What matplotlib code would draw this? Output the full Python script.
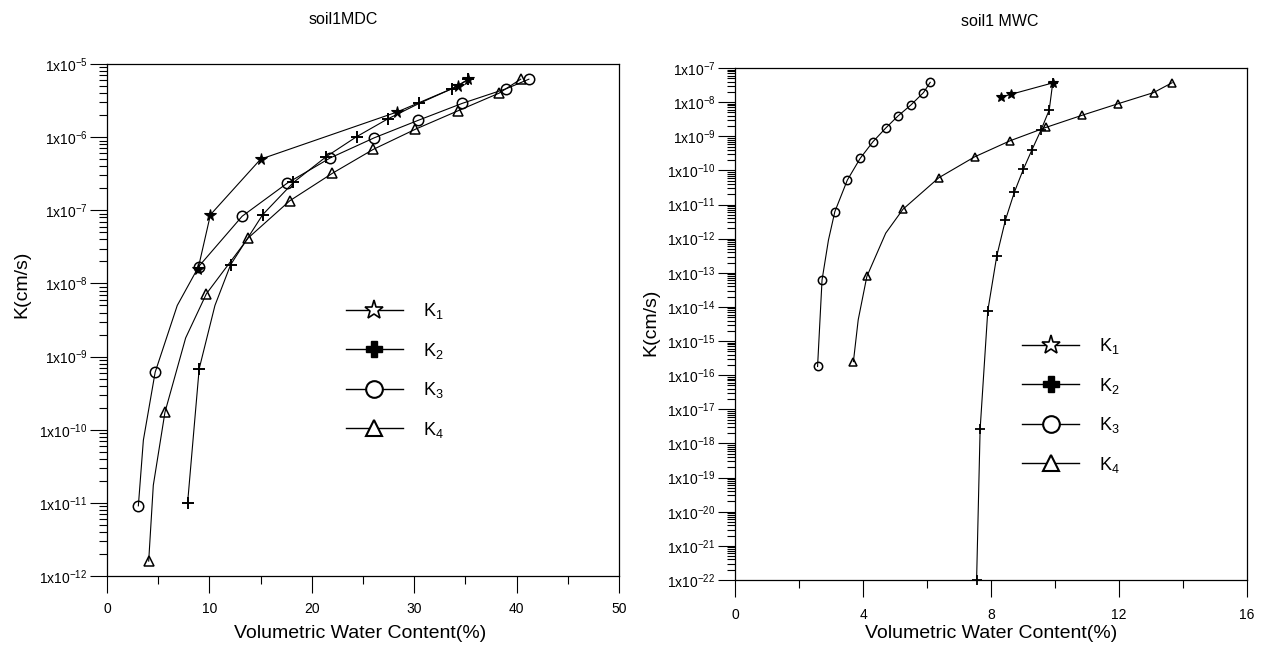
import numpy as np
import matplotlib
matplotlib.use('Agg')
import matplotlib.pyplot as plt
from matplotlib.lines import Line2D
from matplotlib.ticker import FixedLocator, FuncFormatter, LogLocator, NullFormatter, MultipleLocator

plt.rcParams['font.family'] = ['Liberation Sans', 'DejaVu Sans']
plt.rcParams['mathtext.default'] = 'regular'

# soil1 MDC curves (water content %, K cm/s); unmarked vertices are curve bends
mdc_k1_x = [8.9, 10.1, 15.0, 28.3, 34.3, 35.3]
mdc_k1_k = [1.6e-8, 8.7e-8, 5.0e-7, 2.2e-6, 5.0e-6, 6.2e-6]
mdc_k1_mark = [0, 1, 2, 3, 4, 5]

mdc_k2_x = [7.87, 9.0, 10.54, 12.07, 15.2, 18.2, 21.4, 24.4, 27.4, 30.5, 33.7, 35.3]
mdc_k2_k = [1e-11, 6.8e-10, 5.0e-9, 1.8e-8, 8.7e-8, 2.4e-7, 5.4e-7, 1.02e-6,
            1.77e-6, 2.9e-6, 4.6e-6, 6.2e-6]
mdc_k2_mark = [0, 1, 3, 4, 5, 6, 7, 8, 9, 10, 11]

mdc_k3_x = [3.06, 3.55, 4.7, 6.86, 8.95, 13.2, 17.6, 21.8, 26.1, 30.4, 34.7, 39.0, 41.2]
mdc_k3_k = [9.1e-12, 7.2e-11, 6.1e-10, 5.0e-9, 1.7e-8, 8.3e-8, 2.35e-7, 5.2e-7,
            9.8e-7, 1.7e-6, 2.9e-6, 4.6e-6, 6.2e-6]
mdc_k3_mark = [0, 2, 4, 5, 6, 7, 8, 9, 10, 11, 12]

mdc_k4_x = [4.07, 4.52, 5.66, 7.68, 9.7, 13.8, 17.85, 22.0, 26.0, 30.1, 34.3, 38.3, 40.4]
mdc_k4_k = [1.6e-12, 1.74e-11, 1.74e-10, 1.8e-9, 7.2e-9, 4.2e-8, 1.35e-7, 3.2e-7,
            6.8e-7, 1.28e-6, 2.3e-6, 4.0e-6, 6.2e-6]
mdc_k4_mark = [0, 2, 4, 5, 6, 7, 8, 9, 10, 11, 12]

# soil1 MWC curves
mwc_k1_x = [8.30, 8.63, 9.95]
mwc_k1_k = [1.39e-8, 1.7e-8, 3.7e-8]
mwc_k1_mark = [0, 1, 2]

mwc_k2_x = [7.55, 7.66, 7.90, 8.18, 8.45, 8.73, 9.01, 9.28, 9.56, 9.82, 9.93]
mwc_k2_k = [1e-22, 2.6e-18, 7.8e-15, 3.1e-13, 3.5e-12, 2.3e-11, 1.07e-10, 4.0e-10,
            1.5e-9, 5.9e-9, 3.7e-8]
mwc_k2_mark = list(range(11))

mwc_k3_x = [2.58, 2.72, 2.92, 3.12, 3.51, 3.91, 4.31, 4.71, 5.09, 5.50, 5.89, 6.10]
mwc_k3_k = [1.8e-16, 6.2e-14, 9.1e-13, 6.2e-12, 5.2e-11, 2.24e-10, 6.9e-10, 1.74e-9,
            3.9e-9, 8.3e-9, 1.9e-8, 3.8e-8]
mwc_k3_mark = [0, 1, 3, 4, 5, 6, 7, 8, 9, 10, 11]

mwc_k4_x = [3.70, 3.85, 4.12, 4.71, 5.25, 6.37, 7.49, 8.60, 9.72, 10.84, 11.96, 13.08, 13.66]
mwc_k4_k = [2.5e-16, 4.2e-15, 7.8e-14, 1.45e-12, 7.3e-12, 6.1e-11, 2.5e-10, 7.4e-10,
            1.82e-9, 4.1e-9, 8.9e-9, 1.9e-8, 3.7e-8]
mwc_k4_mark = [0, 2, 4, 5, 6, 7, 8, 9, 10, 11, 12]

legend_labels = [r'K$_1$', r'K$_2$', r'K$_3$', r'K$_4$']

mdc_xticks = [0, 10, 20, 30, 40, 50]
mwc_xticks = [0, 4, 8, 12, 16]
mdc_decades = list(range(-12, -4))
mwc_decades = list(range(-22, -6))


def pow_label(v, pos):
    return r'1x10$^{%d}$' % int(round(np.log10(v)))


def style_axes(ax, decades, xticks, xminor, ysize, xpad):
    ax.set_yscale('log')
    ax.set_ylim(10.0 ** decades[0], 10.0 ** decades[-1])
    ax.set_xlim(xticks[0], xticks[-1])
    ax.yaxis.set_major_locator(FixedLocator([10.0 ** d for d in decades]))
    ax.yaxis.set_major_formatter(FuncFormatter(pow_label))
    ax.yaxis.set_minor_locator(LogLocator(base=10, subs=np.arange(2, 10), numticks=40))
    ax.yaxis.set_minor_formatter(NullFormatter())
    ax.set_xticks(xticks)
    ax.xaxis.set_minor_locator(MultipleLocator(xminor))
    ax.tick_params(which='major', direction='out', length=12, width=0.8)
    ax.tick_params(which='minor', direction='out', length=6, width=0.8)
    ax.tick_params(axis='y', labelsize=ysize, pad=2)
    ax.tick_params(axis='x', labelsize=10, pad=xpad)
    for s in ax.spines.values():
        s.set_linewidth(0.9)


def draw_series(ax, x, k, mark, marker, ms, mfc, mew):
    ax.plot(x, k, color='black', lw=0.8, marker=marker, markevery=mark, ms=ms,
            mfc=mfc, mec='black', mew=mew, clip_on=False)


def add_legend(ax, anchor):
    handles = [
        Line2D([], [], color='black', lw=1, marker='*', ms=14, mfc='white', mec='black', mew=1.2),
        Line2D([], [], color='black', lw=1, marker='P', ms=12, mfc='black', mec='black'),
        Line2D([], [], color='black', lw=1, marker='o', ms=12, mfc='white', mec='black', mew=1.5),
        Line2D([], [], color='black', lw=1, marker='^', ms=12, mfc='white', mec='black', mew=1.5),
    ]
    ax.legend(handles, legend_labels, loc='upper left', bbox_to_anchor=anchor,
              frameon=False, fontsize=13, handlelength=3.2, handletextpad=1.1,
              labelspacing=1.08, borderpad=0, borderaxespad=0)


fig = plt.figure(figsize=(12.71, 6.64), dpi=100)
ax1 = fig.add_axes([0.0842, 0.1325, 0.4028, 0.7711])
ax2 = fig.add_axes([0.5783, 0.1265, 0.4028, 0.7711])

# left panel
draw_series(ax1, mdc_k1_x, mdc_k1_k, mdc_k1_mark, '*', 8.5, 'black', 0.8)
draw_series(ax1, mdc_k2_x, mdc_k2_k, mdc_k2_mark, '+', 8.5, 'black', 1.4)
draw_series(ax1, mdc_k3_x, mdc_k3_k, mdc_k3_mark, 'o', 7.5, 'none', 1.1)
draw_series(ax1, mdc_k4_x, mdc_k4_k, mdc_k4_mark, '^', 7.5, 'none', 1.1)
style_axes(ax1, mdc_decades, mdc_xticks, 5, 10, 7)
add_legend(ax1, (0.466, 0.537))

# right panel
draw_series(ax2, mwc_k1_x, mwc_k1_k, mwc_k1_mark, '*', 7, 'black', 0.8)
draw_series(ax2, mwc_k2_x, mwc_k2_k, mwc_k2_mark, '+', 7, 'black', 1.3)
draw_series(ax2, mwc_k3_x, mwc_k3_k, mwc_k3_mark, 'o', 6, 'none', 1.1)
draw_series(ax2, mwc_k4_x, mwc_k4_k, mwc_k4_mark, '^', 6, 'none', 1.1)
style_axes(ax2, mwc_decades, mwc_xticks, 2, 10, 8)
add_legend(ax2, (0.560, 0.476))

# titles and axis labels
fig.text(343 / 1271, 1 - 20 / 664, 'soil1MDC', ha='center', va='center', fontsize=11.5)
fig.text(1000 / 1271, 1 - 22 / 664, 'soil1 MWC', ha='center', va='center', fontsize=11.5)
fig.text(22 / 1271, 1 - 284 / 664, 'K(cm/s)', rotation=90, ha='center', va='center', fontsize=14)
fig.text(651 / 1271, 1 - 322 / 664, 'K(cm/s)', rotation=90, ha='center', va='center', fontsize=14)
fig.text(360 / 1271, 1 - 634 / 664, 'Volumetric Water Content(%)', ha='center', va='center', fontsize=14)
fig.text(991 / 1271, 1 - 634 / 664, 'Volumetric Water Content(%)', ha='center', va='center', fontsize=14)

fig.savefig('out.png', dpi=100)
